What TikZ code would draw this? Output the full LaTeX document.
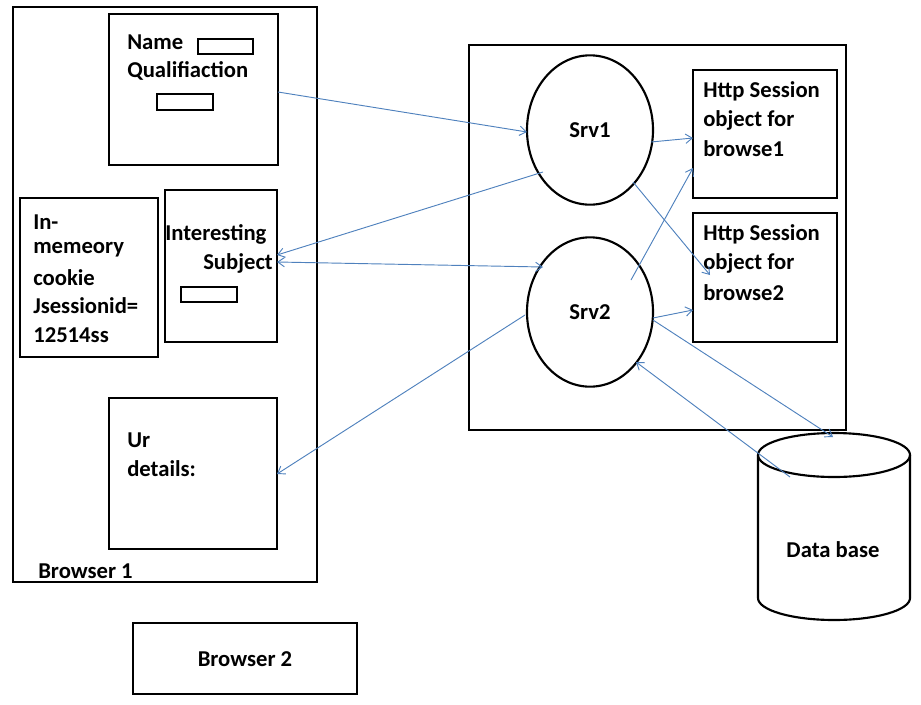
\documentclass[tikz,border=0pt]{standalone}
\usepackage{fontspec}
\setmainfont{Carlito}
\usetikzlibrary{shapes.geometric,arrows.meta}
\begin{document}
\begin{tikzpicture}[x=0.75pt,y=-0.75pt,
  box/.style={draw,line width=1.6pt},
  sm/.style={draw,line width=1.3pt},
  t/.style={font=\fontsize{17}{20}\selectfont\bfseries,inner sep=0pt},
  conn/.style={draw={rgb,255:red,79;green,129;blue,189},line width=0.7pt,-{Straight Barb[length=5pt,width=7pt]}}]
\useasboundingbox (0,0) rectangle (921,704);
% browser 1
\draw[box] (13,7) rectangle (317,582);
\node[t,anchor=west] (b1) at (38,571) {Browser 1};
\draw[box] (109,14) rectangle (278,165);
\node[t,anchor=west] (name) at (127,42) {Name};
\draw[sm] (198,39) rectangle (253,54);
\node[t,anchor=west] (qual) at (127,71) {Qualifiaction};
\draw[sm] (157,94) rectangle (213,110);
\draw[box] (20,198) rectangle (158,357);
\node[t,anchor=west] at (33,222) {In-};
\node[t,anchor=west] at (33,250) {memeory};
\node[t,anchor=west] at (33,278) {cookie};
\node[t,anchor=west] at (33,306) {Jsessionid=};
\node[t,anchor=west] at (33,335) {12514ss};
\draw[box] (165,190) rectangle (277,342);
\node[t,anchor=west] at (165,234) {Interesting};
\node[t,anchor=west] at (203,263) {Subject};
\draw[sm] (181,287) rectangle (237,302);
\draw[box] (109,398) rectangle (277,549);
\node[t,anchor=west] at (127,440) {Ur};
\node[t,anchor=west] at (127,469) {details:};
\draw[box] (133,623) rectangle (357,694);
\node[t] (b2) at (245,659) {Browser 2};
% server
\draw[box] (469,45) rectangle (846,430);
\node[draw,line width=1.6pt,ellipse,inner sep=0pt,minimum width=94.5pt,minimum height=112pt,t] (s1) at (590,130) {Srv1};
\node[draw,line width=1.6pt,ellipse,inner sep=0pt,minimum width=94.5pt,minimum height=112pt,t] (s2) at (590,312) {Srv2};
\draw[box] (693,70) rectangle (837,198);
\node[t,anchor=west] at (703,91) {Http Session};
\node[t,anchor=west] at (703,120) {object for};
\node[t,anchor=west] at (703,149) {browse1};
\draw[box] (693,213) rectangle (837,342);
\node[t,anchor=west] at (703,234) {Http Session};
\node[t,anchor=west] at (703,263) {object for};
\node[t,anchor=west] at (703,293) {browse2};
% database
\draw[box,fill=white] (758,455) -- (758,598) arc[start angle=180,end angle=0,x radius=76,y radius=22] -- (910,455);
\draw[box] (834,455) ellipse[x radius=76,y radius=22];
\node[t] (db) at (833,550) {Data base};
% connectors
\coordinate (a1) at (278,92); \coordinate (a2) at (527,132);
\coordinate (c1) at (543,172); \coordinate (c2) at (277,255);
\coordinate (d1) at (277,262); \coordinate (d2) at (543,267);
\coordinate (e1) at (525,315); \coordinate (e2) at (277,474);
\coordinate (f1) at (651,142); \coordinate (f2) at (693,138);
\coordinate (g1) at (633,182); \coordinate (g2) at (710,275);
\coordinate (h1) at (631,280); \coordinate (h2) at (693,168);
\coordinate (i1) at (653,318); \coordinate (i2) at (693,310);
\coordinate (j1) at (653,320); \coordinate (j2) at (833,437);
\coordinate (k1) at (790,477); \coordinate (k2) at (636,362);
\draw[conn] (a1) -- (a2);
\draw[conn] (c1) -- (c2);
\draw[conn,{Straight Barb[length=5pt,width=7pt]}-{Straight Barb[length=5pt,width=7pt]}] (d1) -- (d2);
\draw[conn] (e1) -- (e2);
\draw[conn] (f1) -- (f2);
\draw[conn] (g1) -- (g2);
\draw[conn] (h1) -- (h2);
\draw[conn] (i1) -- (i2);
\draw[conn] (j1) -- (j2);
\draw[conn] (k1) -- (k2);
\end{tikzpicture}
\end{document}
